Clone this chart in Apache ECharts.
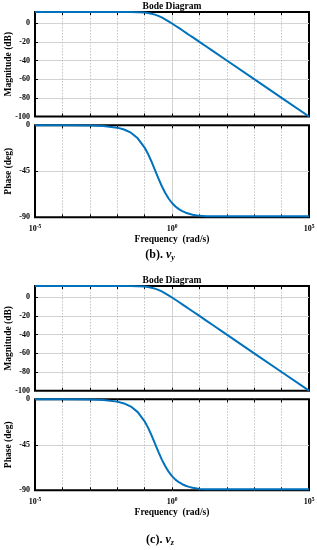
<!DOCTYPE html>
<html>
<head>
<meta charset="utf-8">
<script src="https://cdn.jsdelivr.net/npm/echarts@6/dist/echarts.min.js"></script>
<style>
html,body{margin:0;padding:0;background:#fff;}
#c{width:317px;height:550px;}
</style>
</head>
<body>
<div id="c"></div>
<script>
// log10 of frequency (rad/s)
const logFreq = [-5,-4,-3,-2.5,-2,-1.75,-1.5,-1.25,-1,-0.875,-0.75,-0.625,-0.5,-0.375,-0.25,-0.125,0,0.125,0.25,0.375,0.5,0.625,0.75,1,1.25,1.5,2,3,4,5];
// (b) v_y
const magVy   = [12,12,12,12,12,12,11.9,11.8,11.4,10.9,10.2,9.2,7.9,6.2,4.2,2.0,-0.3,-2.7,-5.1,-7.6,-10.1,-12.6,-15.0,-20.0,-25.0,-30.0,-40,-60,-80,-100];
const phaseVy = [0,0,-0.2,-0.7,-2.3,-4.1,-7.2,-12.7,-21.8,-28.0,-35.4,-43.5,-51.7,-59.4,-66.0,-71.6,-76.0,-79.4,-82.0,-84.0,-85.5,-86.6,-87.5,-88.6,-88.9,-89,-89,-89,-89,-89];
// (c) v_z
const magVz   = [12,12,12,12,12,12,11.9,11.8,11.4,10.9,10.2,9.2,7.9,6.2,4.2,2.0,-0.3,-2.7,-5.1,-7.6,-10.1,-12.6,-15.0,-20.0,-25.0,-30.0,-40,-60,-80,-100];
const phaseVz = [0,0,-0.2,-0.7,-2.3,-4.1,-7.2,-12.7,-21.8,-28.0,-35.4,-43.5,-51.7,-59.4,-66.0,-71.6,-76.0,-79.4,-82.0,-84.0,-85.5,-86.6,-87.5,-88.6,-88.9,-89,-89,-89,-89,-89];
// tick labels
const xTickExp = [-5, 0, 5];
const magTicks = [0,-20,-40,-60,-80,-100];
const phaseTicks = [0,-45,-90];

const FONT = 'Liberation Serif';
const BLUE = '#0072BD';

const grids = [
  {top: 12,    height: 104.5}, // mag b
  {top: 125.3, height: 92},    // phase b
  {top: 286,   height: 104.7}, // mag c
  {top: 399.3, height: 91}     // phase c
];

const capRich = {
  p: {fontFamily: FONT, fontWeight: 'bold', fontSize: 12, color: '#000'},
  d: {fontFamily: FONT, fontSize: 12, color: '#000'},
  v: {fontFamily: FONT, fontStyle: 'italic', fontSize: 12, color: '#000'},
  s: {fontFamily: FONT, fontStyle: 'italic', fontSize: 8, color: '#000', padding: [6,0,0,0]}
};

const option = {
  animation: false,
  backgroundColor: '#fff',
  title: [
    {text: 'Bode Diagram', left: 172, top: 1.5, padding: 0, textAlign: 'center',
     textStyle: {fontFamily: FONT, fontWeight: 'bold', fontSize: 9.5, color: '#000'}},
    {text: 'Bode Diagram', left: 172, top: 276, padding: 0, textAlign: 'center',
     textStyle: {fontFamily: FONT, fontWeight: 'bold', fontSize: 9.5, color: '#000'}},
    {text: '{p|(b)}{d|. }{v|v}{s|y}', left: 160, top: 248, padding: 0, textAlign: 'center',
     textStyle: {rich: capRich}},
    {text: '{p|(c)}{d|. }{v|v}{s|z}', left: 160, top: 533, padding: 0, textAlign: 'center',
     textStyle: {rich: capRich}}
  ],
  grid: grids.map(g => ({left: 35, width: 274, top: g.top, height: g.height,
    outerBoundsMode: 'none', containLabel: false,
    show: true, borderColor: '#000', borderWidth: 2, backgroundColor: 'transparent'})),
  xAxis: [],
  yAxis: [],
  series: []
};

const labelStyle = {fontFamily: FONT, fontWeight: 'bold', fontSize: 8, color: '#000'};
const nameStyle = {fontFamily: FONT, fontWeight: 'bold', fontSize: 9.5, color: '#000'};
const noLine = {show: false, onZero: false};

grids.forEach((g, gi) => {
  const isPhase = gi % 2 === 1;
  // main bottom axis: decade ticks + dotted grid
  option.xAxis.push({
    type: 'value', gridIndex: gi, min: -5, max: 5, interval: 1, position: 'bottom',
    axisLine: noLine,
    axisTick: {show: true, inside: true, length: 3, lineStyle: {color: '#000', width: 1}},
    axisLabel: {show: isPhase, margin: 6,
      formatter: v => xTickExp.indexOf(v) >= 0 ? '{b|10}{s|' + v + '}' : '',
      rich: {
        b: {fontFamily: FONT, fontWeight: 'bold', fontSize: 8, color: '#000'},
        s: {fontFamily: FONT, fontWeight: 'bold', fontSize: 5.5, color: '#000', padding: [0,0,6,0]}
      }},
    splitLine: {show: true, showMinLine: false, showMaxLine: false,
      lineStyle: {color: '#c4c4c4', type: [1.5, 1.5], width: 1}},
    name: isPhase ? 'Frequency  (rad/s)' : '', nameLocation: 'middle', nameGap: 17,
    nameMoveOverlap: false,
    nameTextStyle: nameStyle
  });
  // top axis: ticks only
  option.xAxis.push({
    type: 'value', gridIndex: gi, min: -5, max: 5, interval: 1, position: 'top',
    axisLine: noLine,
    axisTick: {show: true, inside: true, length: 3, lineStyle: {color: '#000', width: 1}},
    axisLabel: {show: false}, splitLine: {show: false}
  });
  // major grid line at 10^0
  option.xAxis.push({
    type: 'value', gridIndex: gi, min: -5, max: 5, interval: 5, position: 'bottom',
    axisLine: noLine, axisTick: {show: false}, axisLabel: {show: false},
    splitLine: {show: true, showMinLine: false, showMaxLine: false,
      lineStyle: {color: '#d2d2d2', type: 'solid', width: 1}}
  });

  option.yAxis.push(isPhase ? {
    type: 'value', gridIndex: gi, min: -90, max: 0, interval: 45, position: 'left',
    axisLine: noLine,
    axisTick: {show: true, inside: true, length: 3, lineStyle: {color: '#000'}},
    axisLabel: Object.assign({margin: 5,
      formatter: v => phaseTicks.indexOf(v) >= 0 ? String(v) : ''}, labelStyle),
    splitLine: {show: true, showMinLine: false, showMaxLine: false,
      lineStyle: {color: '#d2d2d2', width: 1}},
    name: 'Phase (deg)', nameLocation: 'middle', nameGap: 21, nameMoveOverlap: false,
    nameTextStyle: nameStyle
  } : {
    type: 'value', gridIndex: gi, min: -100, max: 12, interval: 20, position: 'left',
    axisLine: noLine,
    axisTick: {show: true, inside: true, length: 3, lineStyle: {color: '#000'}},
    axisLabel: Object.assign({margin: 5,
      formatter: v => magTicks.indexOf(v) >= 0 ? String(v) : ''}, labelStyle),
    splitLine: {show: true, showMinLine: false, showMaxLine: false,
      lineStyle: {color: '#d2d2d2', width: 1}},
    name: 'Magnitude (dB)', nameLocation: 'middle', nameGap: 21, nameMoveOverlap: false,
    nameTextStyle: nameStyle
  });

  const vals = [magVy, phaseVy, magVz, phaseVz][gi];
  option.series.push({
    type: 'line', xAxisIndex: gi * 3, yAxisIndex: gi,
    data: logFreq.map((x, i) => [x, vals[i]]),
    showSymbol: false, symbol: 'none', smooth: false,
    clip: false, z: 5,
    lineStyle: {color: BLUE, width: 2, join: 'round'}
  });
});

const chart = echarts.init(document.getElementById('c'), null, {renderer: 'canvas'});
chart.setOption(option);
</script>
</body>
</html>
